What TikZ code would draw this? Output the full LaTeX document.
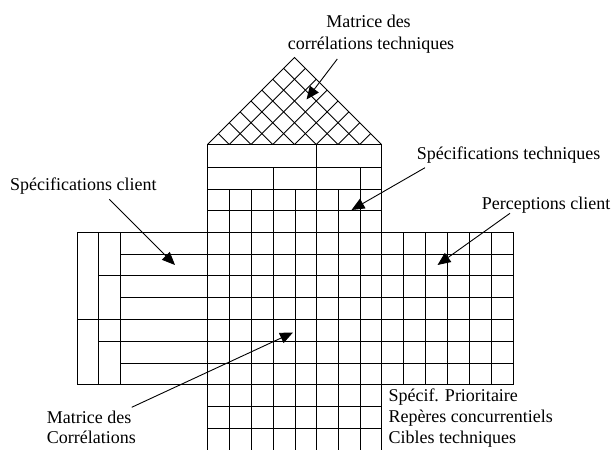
\documentclass[tikz,border=0pt]{standalone}
\usepackage{fontspec}
\setmainfont{Liberation Serif}
\usetikzlibrary{calc,arrows.meta}
\begin{document}
\begin{tikzpicture}[x=1pt,y=-1pt,
  g/.style={line width=1.1pt},
  roofline/.style={line width=0.9pt},
  lbl/.style={font=\fontsize{18}{22}\selectfont, inner sep=0pt, anchor=base west},
  lblc/.style={lbl, anchor=base},
  arr/.style={line width=0.9pt, -{Triangle[length=13pt,width=11pt]}}]
\useasboundingbox (0,0) rectangle (612,449);

% ---------- roof (correlation matrix) ----------
\coordinate (L) at (207.5,144.5);
\coordinate (R) at (381.5,144.5);
\coordinate (A) at (294.5,57.5);
\draw[roofline] (L) -- (A) -- (R);
\foreach \k in {1,...,7}{
  \draw[roofline] ($(L)!\k/8!(R)$) -- ($(L)!\k/8!(A)$);
  \draw[roofline] ($(L)!\k/8!(R)$) -- ($(A)!\k/8!(R)$);
}

% ---------- central column ----------
\draw[g] (207.5,144.5) rectangle (381.5,189.5);
\draw[g] (207.5,167.5) -- (381.5,167.5);
\draw[g] (316.5,144.5) -- (316.5,189.5);
\draw[g] (273.5,167.5) -- (273.5,189.5);
\draw[g] (360.5,167.5) -- (360.5,189.5);
\foreach \x in {207.5,229.5,251.5,273.5,295.5,316.5,338.5,360.5,381.5}
  \draw[g] (\x,189.5) -- (\x,450);
\foreach \y in {210.5,232.5,254.5,275.5,297.5,319.5,341.5,363.5,384.5,406.5,428.5}
  \draw[g] (207.5,\y) -- (381.5,\y);

% ---------- left block ----------
\draw[g] (77.5,232.5) rectangle (207.5,384.5);
\draw[g] (98.5,232.5) -- (98.5,384.5);
\draw[g] (120.5,232.5) -- (120.5,384.5);
\foreach \y in {254.5,275.5,297.5,319.5,341.5,363.5}
  \draw[g] (120.5,\y) -- (207.5,\y);
\foreach \y in {275.5,319.5,341.5}
  \draw[g] (98.5,\y) -- (120.5,\y);
\draw[g] (77.5,319.5) -- (98.5,319.5);

% ---------- right block ----------
\draw[g] (381.5,232.5) rectangle (513.5,384.5);
\foreach \x in {403.5,425.5,447.5,469.5,491.5}
  \draw[g] (\x,232.5) -- (\x,384.5);
\foreach \y in {254.5,275.5,297.5,319.5,341.5,363.5}
  \draw[g] (381.5,\y) -- (513.5,\y);

% ---------- labels ----------
\node[lblc] (t1a) at (368.5,28) {Matrice des};
\node[lblc] (t1b) at (371,50) {corrélations techniques};
\node[lbl] (t2) at (416.7,159.5) {Spécifications techniques};
\node[lbl] (t3) at (10,190.5) {Spécifications client};
\node[lbl] (t4) at (481.7,209) {Perceptions client};
\node[lbl] (t5a) at (46.7,423.3) {Matrice des};
\node[lbl] (t5b) at (46.7,443.3) {Corrélations};
\node[lbl] (t6a) at (388.3,401.5) {Spécif. Prioritaire};
\node[lbl] (t6b) at (388.3,422) {Repères concurrentiels};
\node[lbl] (t6c) at (388.3,443) {Cibles techniques};

% ---------- arrows ----------
\coordinate (a1s) at (337.3,59);   \coordinate (a1e) at (306.5,99.5);
\coordinate (a2s) at (109.3,199.3); \coordinate (a2e) at (175,265);
\coordinate (a3s) at (425,167.7);  \coordinate (a3e) at (351.5,210);
\coordinate (a4s) at (510,213.3);  \coordinate (a4e) at (437.5,265);
\coordinate (a5s) at (131.7,407.3); \coordinate (a5e) at (293,332.5);
\draw[arr] (a1s) -- (a1e);
\draw[arr] (a2s) -- (a2e);
\draw[arr] (a3s) -- (a3e);
\draw[arr] (a4s) -- (a4e);
\draw[arr] (a5s) -- (a5e);
\end{tikzpicture}
\end{document}
